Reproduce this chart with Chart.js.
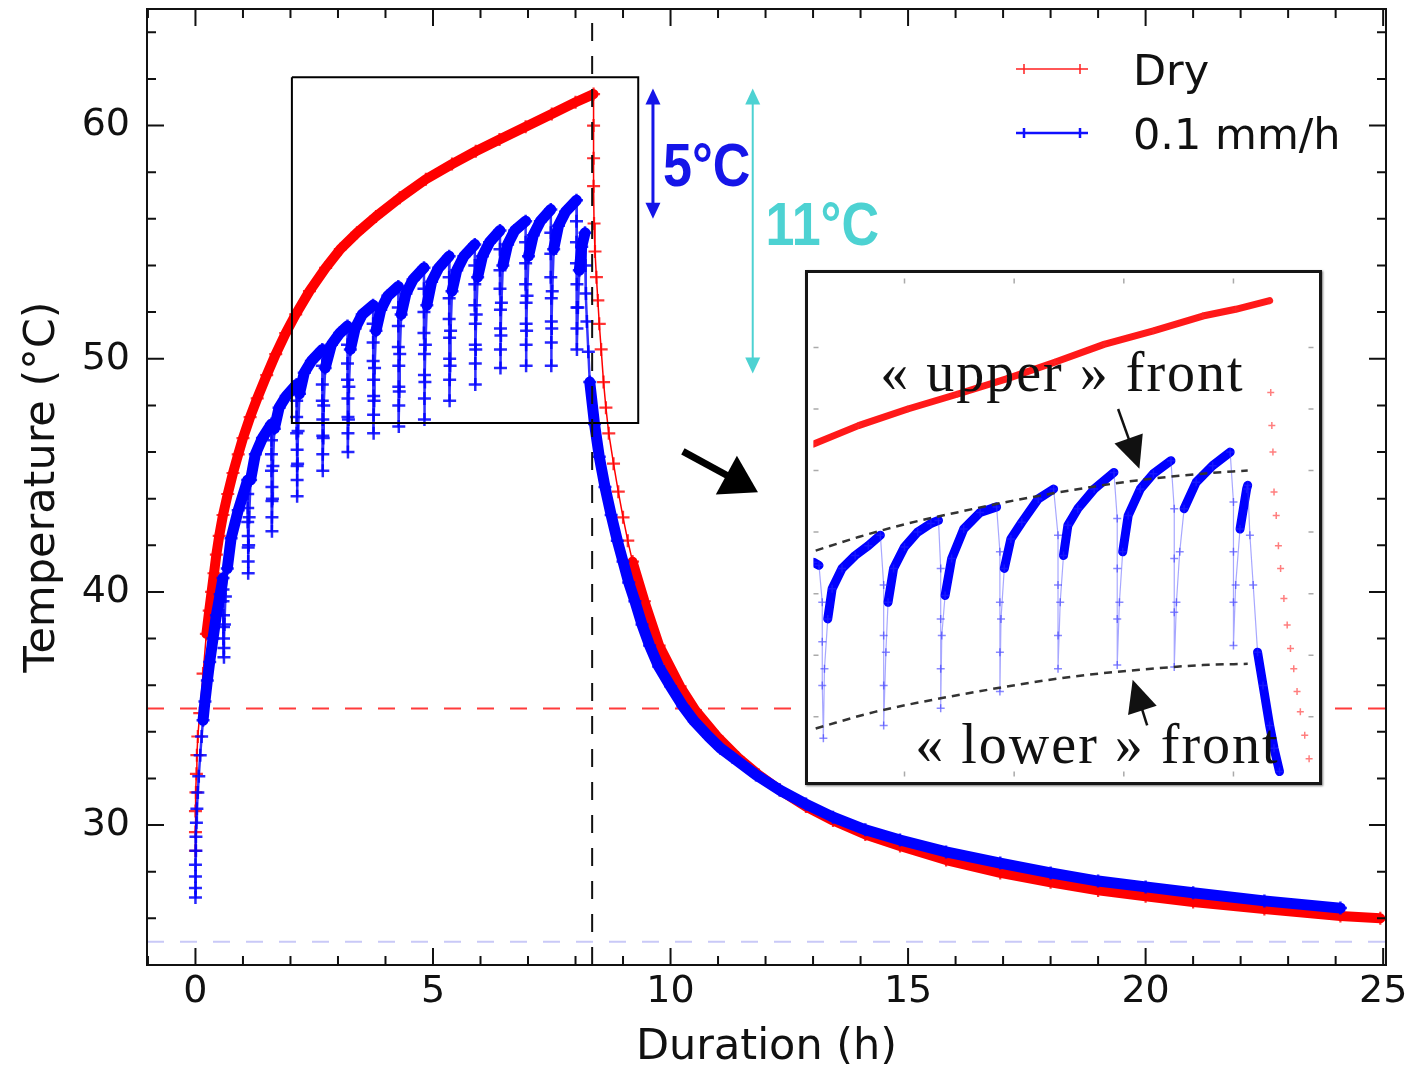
<!DOCTYPE html>
<html>
<head>
<meta charset="utf-8">
<script src="https://cdn.jsdelivr.net/npm/chart.js@4.4.1/dist/chart.umd.min.js"></script>
<style>
    html, body { margin: 0; padding: 0; background: #fff; }
    #wrap { position: relative; width: 1412px; height: 1074px; }
    #inset { position: absolute; left: 805px; top: 270px; width: 511px; height: 509px;
             border: 3px solid #161616; background: #fff; box-shadow: 1px 1px 2px #777; }
    canvas { display: block; }
</style>
</head>
<body>
<div id="wrap">
    <canvas id="chart" width="1412" height="1074"></canvas>
    <div id="inset"><canvas id="zoom" width="511" height="509"></canvas></div>
</div>
<script>
// axes
var xMin = -1.02, xMax = 25.06;
var yMin = 24, yMax = 65;
var xTickLabels = [0, 5, 10, 15, 20, 25];
var yTickLabels = [30, 40, 50, 60];
var seriesNames = ['Dry', '0.1 mm/h'];

// Dry run (red)
var dryTime = [0.00, 0.00, 0.00, 0.01, 0.02, 0.03, 0.05, 0.09, 0.16, 0.23, 0.29, 0.34, 0.39, 0.44, 0.50,
    0.58, 0.68, 0.79, 0.90, 1.00, 1.15, 1.30, 1.50, 1.69, 1.90, 2.11, 2.40, 2.74, 3.05, 3.40, 3.80,
    4.30, 4.85, 5.40, 5.90, 6.40, 6.95, 7.50, 8.00, 8.38,
    8.38, 8.38, 8.38, 8.39, 8.41, 8.44, 8.47, 8.50, 8.54, 8.59, 8.64, 8.70, 8.80, 8.90, 9.00, 9.10,
    9.20, 9.45, 9.76, 10.20, 10.52, 10.98, 11.42, 11.86, 12.30, 12.85, 13.42, 14.10, 14.83, 15.80,
    16.94, 18.00, 19.00, 20.00, 21.00, 22.50, 24.10, 24.94];
var dryTemp = [28.9, 29.7, 30.6, 31.4, 32.2, 33.0, 33.8, 34.8, 36.5, 38.2, 39.2, 40.0, 40.8, 41.6, 42.4,
    43.3, 44.2, 45.1, 45.9, 46.6, 47.5, 48.3, 49.3, 50.2, 51.1, 51.9, 52.9, 53.9, 54.7, 55.4, 56.1,
    56.9, 57.7, 58.35, 58.9, 59.4, 59.95, 60.5, 61.0, 61.35,
    60.0, 58.6, 57.4, 55.8, 54.6, 53.5, 52.5, 51.5, 50.4, 49.0, 47.9, 46.8, 45.5, 44.3, 43.2, 42.2,
    41.3, 39.6, 37.7, 35.95, 34.93, 33.8, 32.9, 32.15, 31.5, 30.8, 30.2, 29.6, 29.1, 28.5,
    27.95, 27.55, 27.2, 26.95, 26.7, 26.4, 26.1, 26.0];

// 0.1 mm/h run (blue): first rise, 15 teeth (drop column + recovery), then cooling
var wetTime = [0.00, 0.00, 0.00, 0.00, 0.01, 0.01, 0.02, 0.03, 0.05, 0.07, 0.10, 0.13, 0.16, 0.20, 0.25,
    0.30, 0.37, 0.44, 0.52, 0.58,
    0.58, 0.58, 0.59, 0.59, 0.59, 0.60, 0.60, 0.61, 0.63, 0.67, 0.75, 0.90, 1.10,
    1.10, 1.10, 1.10, 1.11, 1.11, 1.11, 1.11, 1.12, 1.13, 1.16, 1.26, 1.41, 1.60,
    1.60, 1.60, 1.60, 1.61, 1.61, 1.61, 1.61, 1.62, 1.63, 1.66, 1.76, 1.91, 2.13,
    2.13, 2.13, 2.13, 2.14, 2.14, 2.14, 2.14, 2.15, 2.16, 2.19, 2.29, 2.44, 2.67,
    2.67, 2.67, 2.67, 2.68, 2.68, 2.68, 2.68, 2.69, 2.70, 2.73, 2.86, 3.04, 3.20,
    3.20, 3.20, 3.20, 3.21, 3.21, 3.21, 3.21, 3.22, 3.23, 3.26, 3.36, 3.51, 3.74,
    3.74, 3.74, 3.74, 3.75, 3.75, 3.75, 3.75, 3.76, 3.77, 3.80, 3.90, 4.05, 4.27,
    4.27, 4.27, 4.27, 4.28, 4.28, 4.28, 4.28, 4.29, 4.30, 4.33, 4.43, 4.58, 4.81,
    4.81, 4.81, 4.81, 4.82, 4.82, 4.82, 4.82, 4.83, 4.84, 4.87, 4.97, 5.12, 5.34,
    5.34, 5.34, 5.34, 5.35, 5.35, 5.35, 5.35, 5.36, 5.37, 5.40, 5.50, 5.65, 5.88,
    5.88, 5.88, 5.88, 5.89, 5.89, 5.89, 5.89, 5.90, 5.91, 5.94, 6.04, 6.19, 6.41,
    6.41, 6.41, 6.41, 6.42, 6.42, 6.42, 6.42, 6.43, 6.44, 6.47, 6.57, 6.72, 6.95,
    6.95, 6.95, 6.95, 6.96, 6.96, 6.96, 6.96, 6.97, 6.98, 7.01, 7.11, 7.26, 7.48,
    7.48, 7.48, 7.48, 7.49, 7.49, 7.49, 7.49, 7.50, 7.51, 7.54, 7.64, 7.79, 8.02,
    8.02, 8.02, 8.02, 8.03, 8.03, 8.03, 8.03,
    8.05, 8.08, 8.13, 8.20, 8.21, 8.22, 8.24, 8.27, 8.30,
    8.40, 8.50, 8.62, 8.75, 8.88, 9.00, 9.12, 9.25, 9.40, 9.56, 9.75, 10.00, 10.26, 10.50, 10.80,
    11.05, 11.31, 11.80, 12.30, 12.85, 13.42, 14.10, 14.83, 15.80, 16.94, 18.00, 19.00, 20.00,
    21.00, 22.50, 24.10];
var wetTemp = [26.9, 27.3, 27.8, 28.3, 28.9, 29.5, 30.1, 30.7, 31.4, 32.1, 33.0, 33.8, 34.5, 35.3, 36.2,
    37.0, 38.0, 39.0, 39.9, 40.6,
    40.1, 39.6, 39.0, 38.5, 38.0, 37.6, 37.2, 38.6, 39.8, 41.0, 42.3, 43.5, 44.8,
    44.2, 43.6, 43.0, 42.4, 41.9, 41.3, 40.8, 42.0, 43.2, 44.8, 45.9, 46.6, 47.2,
    46.5, 45.9, 45.2, 44.5, 43.9, 43.2, 42.6, 44.0, 45.4, 47.0, 47.9, 48.4, 48.9,
    48.2, 47.5, 46.8, 46.1, 45.4, 44.8, 44.1, 45.5, 46.9, 48.5, 49.4, 49.9, 50.4,
    49.7, 48.9, 48.2, 47.4, 46.7, 45.9, 45.2, 46.6, 48.0, 49.6, 50.6, 51.1, 51.4,
    50.6, 49.8, 49.1, 48.3, 47.5, 46.8, 46.0, 47.4, 48.8, 50.4, 51.3, 51.9, 52.3,
    51.5, 50.7, 49.9, 49.1, 48.4, 47.6, 46.8, 48.2, 49.6, 51.2, 52.1, 52.7, 53.1,
    52.2, 51.4, 50.5, 49.7, 48.8, 48.0, 47.1, 48.6, 50.2, 51.9, 52.8, 53.4, 53.9,
    53.0, 52.0, 51.1, 50.2, 49.3, 48.3, 47.4, 49.0, 50.6, 52.3, 53.3, 53.9, 54.4,
    53.5, 52.6, 51.7, 50.9, 50.0, 49.1, 48.2, 49.7, 51.2, 52.9, 53.8, 54.4, 54.9,
    54.0, 53.2, 52.3, 51.5, 50.6, 49.8, 48.9, 50.4, 51.9, 53.5, 54.4, 55.0, 55.5,
    54.7, 53.8, 53.0, 52.1, 51.3, 50.4, 49.6, 51.0, 52.4, 54.0, 54.9, 55.5, 55.9,
    55.0, 54.1, 53.2, 52.4, 51.5, 50.6, 49.7, 51.2, 52.7, 54.4, 55.3, 55.9, 56.4,
    55.4, 54.5, 53.5, 52.6, 51.6, 50.7, 49.7, 51.3, 52.9, 54.7, 55.7, 56.3, 56.8,
    55.9, 55.0, 54.1, 53.2, 52.2, 51.3, 50.4,
    52.2, 53.8, 54.8, 55.4, 54.0, 52.8, 51.6, 50.3, 49.0,
    47.2, 45.8, 44.5, 43.3, 42.2, 41.3, 40.4, 39.6, 38.6, 37.7, 36.8, 35.95, 35.1, 34.45, 33.8,
    33.3, 32.9, 32.15, 31.5, 30.9, 30.34, 29.8, 29.36, 28.85, 28.37, 27.95, 27.6, 27.35,
    27.1, 26.75, 26.44];

// reference lines and zoom frame
var tempLimit = 35;
var ambientTemp = 25;
var heaterOffTime = 8.35;
var zoomBoxTime = [2.03, 9.32];
var zoomBoxTemp = [47.24, 62.07];

// inset (zoomed view)
var insetTimeRange = [4.17, 8.73];
var insetTempRange = [49.03, 57.12];
var insetTimeTicks = [5, 6, 7, 8];
var insetTempTicks = [50, 51, 52, 53, 54, 55, 56];
var insetDryTime = [4.17, 4.58, 5.03, 5.48, 5.93, 6.37, 6.82, 7.27, 7.72, 8.02, 8.33,
    8.34, 8.35, 8.36, 8.37, 8.39, 8.41, 8.43, 8.46, 8.49, 8.52, 8.55, 8.58, 8.61, 8.65, 8.69];
var insetDryTemp = [54.43, 54.73, 55.00, 55.24, 55.49, 55.76, 56.05, 56.27, 56.51, 56.62, 56.76,
    55.27, 54.73, 54.30, 53.65, 53.27, 52.78, 52.41, 51.92, 51.49, 51.11, 50.78, 50.41, 50.08, 49.70, 49.32];
var insetWetTime = [4.17, 4.22,
    4.25, 4.25, 4.25, 4.26, 4.27, 4.30, 4.34, 4.43, 4.55, 4.67, 4.78,
    4.81, 4.81, 4.81, 4.81, 4.83, 4.85, 4.90, 5.00, 5.12, 5.24, 5.31,
    5.33, 5.33, 5.33, 5.33, 5.34, 5.37, 5.43, 5.54, 5.69, 5.84,
    5.87, 5.87, 5.87, 5.87, 5.88, 5.91, 5.97, 6.07, 6.22, 6.36,
    6.40, 6.40, 6.40, 6.40, 6.42, 6.45, 6.49, 6.58, 6.73, 6.91,
    6.94, 6.94, 6.94, 6.94, 6.96, 6.99, 7.04, 7.15, 7.27, 7.43,
    7.46, 7.46, 7.46, 7.46, 7.48, 7.51, 7.55, 7.66, 7.81, 7.97,
    8.00, 8.00, 8.00, 8.00, 8.02, 8.06, 8.12, 8.13,
    8.15, 8.18, 8.22, 8.27, 8.33, 8.37, 8.42];
var insetWetTemp = [52.51, 52.46,
    51.86, 51.22, 50.51, 49.65, 50.78, 51.59, 52.08, 52.41, 52.62, 52.78, 52.95,
    52.14, 51.32, 50.51, 49.86, 51.05, 51.86, 52.41, 52.76, 53.00, 53.14, 53.19,
    52.41, 51.59, 50.78, 50.14, 51.32, 51.97, 52.57, 53.05, 53.32, 53.41,
    52.68, 51.86, 51.05, 50.41, 51.59, 52.41, 52.89, 53.16, 53.54, 53.70,
    52.95, 52.14, 51.32, 50.78, 51.86, 52.62, 53.11, 53.38, 53.70, 53.97,
    53.22, 52.41, 51.59, 50.84, 51.86, 52.68, 53.27, 53.70, 53.95, 54.16,
    53.38, 52.57, 51.70, 50.81, 51.86, 52.68, 53.38, 53.81, 54.08, 54.30,
    53.49, 52.68, 51.86, 51.16, 52.14, 53.05, 53.70, 53.76,
    52.95, 52.14, 51.05, 50.51, 49.86, 49.49, 49.11];
var upperFrontTime = [4.19, 4.58, 5.03, 5.48, 5.93, 6.52, 7.12, 7.72, 8.13];
var upperFrontTemp = [52.70, 52.92, 53.14, 53.32, 53.49, 53.68, 53.84, 53.95, 54.00];
var lowerFrontTime = [4.19, 4.73, 5.33, 5.93, 6.52, 7.12, 7.72, 8.13];
var lowerFrontTemp = [49.81, 50.08, 50.30, 50.49, 50.65, 50.76, 50.84, 50.86];

var FONT = '"DejaVu Sans", "Liberation Sans", sans-serif';
var BOLD = '"Liberation Sans", Arial, sans-serif';
var SERIF = '"Liberation Serif", "DejaVu Serif", serif';

function points(xs, ys) {
    return xs.map(function (x, i) {
        return {x: x, y: ys[i]};
    });
}

// steep parts of a record were sampled sparsely: they show as separate crosses
function isSteep(ctx, riseSteep, fallSteep) {
    var dx = Math.abs(ctx.p1.x - ctx.p0.x);
    var dy = ctx.p1.y - ctx.p0.y;
    var limit = dy > 0 ? fallSteep : riseSteep;
    return Math.abs(dy) > limit * Math.max(dx, 0.01);
}

function bandWidth(thick, thin, riseSteep, fallSteep) {
    return function (ctx) {
        return isSteep(ctx, riseSteep, fallSteep) ? thin : thick;
    };
}

function bandColor(color, sparseColor, riseSteep, fallSteep) {
    return function (ctx) {
        return isSteep(ctx, riseSteep, fallSteep) ? sparseColor : color;
    };
}

function head(ctx, x0, y0, x1, y1, len, half) {
    var a = Math.atan2(y1 - y0, x1 - x0);
    var bx = x1 - len * Math.cos(a), by = y1 - len * Math.sin(a);
    ctx.beginPath();
    ctx.moveTo(x1, y1);
    ctx.lineTo(bx + half * Math.sin(a), by - half * Math.cos(a));
    ctx.lineTo(bx - half * Math.sin(a), by + half * Math.cos(a));
    ctx.closePath();
    ctx.fill();
}

function arrow(ctx, x0, y0, x1, y1, len, half) {
    var a = Math.atan2(y1 - y0, x1 - x0);
    ctx.beginPath();
    ctx.moveTo(x0, y0);
    ctx.lineTo(x1 - (len - 2) * Math.cos(a), y1 - (len - 2) * Math.sin(a));
    ctx.stroke();
    head(ctx, x0, y0, x1, y1, len, half);
}

var gapNotes = [
    {time: 9.63, high: 61.59, low: 56.0, color: '#1515e8', width: 3, text: '5°C', textTime: 9.84, textTemp: 57.43},
    {time: 11.73, high: 61.59, low: 49.37, color: '#4dd2d2', width: 2, text: '11°C', textTime: 12.0, textTemp: 54.86}
];
var pointer = {time0: 10.26, temp0: 46.03, time1: 11.84, temp1: 44.27};

var decorations = {
    id: 'decorations',
    afterDatasetsDraw: function (chart) {
        var ctx = chart.ctx, a = chart.chartArea;
        var xs = chart.scales.x, ys = chart.scales.y;
        ctx.save();

        // inward ticks on all four sides
        ctx.strokeStyle = '#111';
        ctx.lineWidth = 2;
        ctx.beginPath();
        xs.ticks.forEach(function (t) {
            var px = xs.getPixelForValue(t.value);
            var len = xTickLabels.indexOf(t.value) >= 0 ? 17 : 9;
            ctx.moveTo(px, a.bottom); ctx.lineTo(px, a.bottom - len);
            ctx.moveTo(px, a.top); ctx.lineTo(px, a.top + len);
        });
        ys.ticks.forEach(function (t) {
            var py = ys.getPixelForValue(t.value);
            var len = yTickLabels.indexOf(t.value) >= 0 ? 17 : 9;
            ctx.moveTo(a.left, py); ctx.lineTo(a.left + len, py);
            ctx.moveTo(a.right, py); ctx.lineTo(a.right - len, py);
        });
        ctx.stroke();
        ctx.strokeRect(a.left, a.top, a.right - a.left, a.bottom - a.top);

        // temperature gap arrows
        gapNotes.forEach(function (n) {
            var px = xs.getPixelForValue(n.time);
            var top = ys.getPixelForValue(n.high), bottom = ys.getPixelForValue(n.low);
            ctx.strokeStyle = n.color;
            ctx.fillStyle = n.color;
            ctx.lineWidth = n.width;
            ctx.beginPath();
            ctx.moveTo(px, top + 12);
            ctx.lineTo(px, bottom - 12);
            ctx.stroke();
            head(ctx, px, bottom - 20, px, bottom, 16, 7.5);
            head(ctx, px, top + 20, px, top, 16, 7.5);
            ctx.save();
            ctx.translate(xs.getPixelForValue(n.textTime), ys.getPixelForValue(n.textTemp));
            ctx.scale(0.84, 1);
            ctx.font = 'bold 62px ' + BOLD;
            ctx.textAlign = 'left';
            ctx.textBaseline = 'alphabetic';
            ctx.fillText(n.text, 0, 0);
            ctx.restore();
        });

        // pointer to the inset
        ctx.strokeStyle = '#000';
        ctx.fillStyle = '#000';
        ctx.lineWidth = 7;
        arrow(ctx, xs.getPixelForValue(pointer.time0), ys.getPixelForValue(pointer.temp0),
            xs.getPixelForValue(pointer.time1), ys.getPixelForValue(pointer.temp1), 36, 22);

        // legend
        var lx = a.right - 370, tx = a.right - 253;
        var rows = [{y: a.top + 60, color: '#ff2020', width: 1.5}, {y: a.top + 124, color: '#1010ff', width: 2.5}];
        rows.forEach(function (r, i) {
            ctx.strokeStyle = r.color;
            ctx.lineWidth = r.width;
            ctx.beginPath();
            ctx.moveTo(lx, r.y); ctx.lineTo(lx + 72, r.y);
            ctx.moveTo(lx + 8, r.y - 5); ctx.lineTo(lx + 8, r.y + 5);
            ctx.moveTo(lx + 64, r.y - 5); ctx.lineTo(lx + 64, r.y + 5);
            ctx.stroke();
            ctx.fillStyle = '#111';
            ctx.font = '43px ' + FONT;
            ctx.textAlign = 'left';
            ctx.textBaseline = 'alphabetic';
            ctx.fillText(seriesNames[i], tx, r.y + 16);
        });
        ctx.restore();
    }
};

new Chart(document.getElementById('chart'), {
    type: 'scatter',
    data: {
        datasets: [
            {
                data: [{x: heaterOffTime, y: yMin}, {x: heaterOffTime, y: yMax}],
                showLine: true, order: 0, borderColor: '#111', borderWidth: 2, borderDash: [18, 15], pointRadius: 0
            },
            {
                data: [{x: zoomBoxTime[0], y: zoomBoxTemp[1]}, {x: zoomBoxTime[1], y: zoomBoxTemp[1]},
                    {x: zoomBoxTime[1], y: zoomBoxTemp[0]}, {x: zoomBoxTime[0], y: zoomBoxTemp[0]},
                    {x: zoomBoxTime[0], y: zoomBoxTemp[1]}],
                showLine: true, order: 0, borderColor: '#000', borderWidth: 2, pointRadius: 0
            },
            {
                label: seriesNames[1],
                data: points(wetTime, wetTemp),
                showLine: true, order: 1,
                borderColor: '#0000ff', borderWidth: 11, borderJoinStyle: 'round', borderCapStyle: 'round',
                pointStyle: 'cross', pointRadius: 6.5, pointBorderWidth: 2.5, pointBorderColor: 'rgba(0,0,255,0.85)',
                segment: {
                    borderWidth: bandWidth(11, 2.5, 10, 10),
                    borderColor: bandColor('#0000ff', 'rgba(0,0,255,0.8)', 10, 10)
                }
            },
            {
                label: seriesNames[0],
                data: points(dryTime, dryTemp),
                showLine: true, order: 2,
                borderColor: '#ff0000', borderWidth: 10, borderJoinStyle: 'round', borderCapStyle: 'round',
                pointStyle: 'cross', pointRadius: 6.5, pointBorderWidth: 2.2, pointBorderColor: 'rgba(255,0,0,0.8)',
                segment: {borderWidth: bandWidth(10, 1.5, 9, 4.2)}
            },
            {
                data: [{x: xMin, y: tempLimit}, {x: xMax, y: tempLimit}],
                showLine: true, order: 3, borderColor: '#ff3b3b', borderWidth: 2, borderDash: [17, 16], pointRadius: 0
            },
            {
                data: [{x: xMin, y: ambientTemp}, {x: xMax, y: ambientTemp}],
                showLine: true, order: 3, borderColor: '#c9c9f7', borderWidth: 2, borderDash: [17, 16], pointRadius: 0
            }
        ]
    },
    options: {
        responsive: false,
        animation: false,
        devicePixelRatio: 1,
        events: [],
        layout: {padding: {top: 7, right: 26, left: 0, bottom: 0}},
        plugins: {legend: {display: false}, tooltip: {enabled: false}},
        scales: {
            x: {
                type: 'linear', position: 'bottom', min: xMin, max: xMax,
                grid: {display: false, drawTicks: false},
                border: {display: false},
                afterBuildTicks: function (scale) {
                    var ticks = [];
                    for (var v = Math.ceil(scale.min); v <= scale.max; v += 1) {
                        ticks.push({value: v});
                    }
                    scale.ticks = ticks;
                },
                afterFit: function (scale) {
                    scale.height = 109;
                    scale.paddingLeft = 0;
                    scale.paddingRight = 0;
                },
                ticks: {
                    autoSkip: false, maxRotation: 0, minRotation: 0, padding: 4, color: '#111',
                    font: {family: FONT, size: 38},
                    callback: function (value) {
                        return xTickLabels.indexOf(value) >= 0 ? String(value) : '';
                    }
                },
                title: {
                    display: true, text: 'Duration (h)', color: '#111',
                    font: {family: FONT, size: 43}, padding: {top: 0, bottom: 0}
                }
            },
            y: {
                type: 'linear', min: yMin, max: yMax,
                grid: {display: false, drawTicks: false},
                border: {display: false},
                afterBuildTicks: function (scale) {
                    var ticks = [];
                    for (var v = Math.ceil(scale.min / 2) * 2; v <= scale.max; v += 2) {
                        ticks.push({value: v});
                    }
                    scale.ticks = ticks;
                },
                afterFit: function (scale) {
                    scale.width = 147;
                    scale.paddingTop = 0;
                    scale.paddingBottom = 0;
                },
                ticks: {
                    autoSkip: false, padding: 17, color: '#111',
                    font: {family: FONT, size: 38},
                    callback: function (value) {
                        return yTickLabels.indexOf(value) >= 0 ? String(value) : '';
                    }
                },
                title: {
                    display: true, text: 'Temperature (°C)', color: '#111',
                    font: {family: FONT, size: 43}, padding: {top: 17, bottom: 0}
                }
            }
        }
    },
    plugins: [decorations]
});

// inset
var insetNotes = [
    {text: '« upper » front', time: 6.44, temp: 55.30, tail: [6.948, 55.00], tip: [7.142, 54.03]},
    {text: '« lower » front', time: 6.76, temp: 49.25, tail: [7.213, 49.86], tip: [7.081, 50.60]}
];

var insetDecor = {
    id: 'insetDecor',
    afterDatasetsDraw: function (chart) {
        var ctx = chart.ctx, a = chart.chartArea;
        var xs = chart.scales.x, ys = chart.scales.y;
        ctx.save();
        ctx.strokeStyle = '#aaa';
        ctx.lineWidth = 1.5;
        ctx.beginPath();
        insetTimeTicks.forEach(function (v) {
            var px = xs.getPixelForValue(v);
            ctx.moveTo(px, a.top); ctx.lineTo(px, a.top + 5);
            ctx.moveTo(px, a.bottom); ctx.lineTo(px, a.bottom - 5);
        });
        insetTempTicks.forEach(function (v) {
            var py = ys.getPixelForValue(v);
            ctx.moveTo(a.left, py); ctx.lineTo(a.left + 5, py);
            ctx.moveTo(a.right, py); ctx.lineTo(a.right - 5, py);
        });
        ctx.stroke();

        insetNotes.forEach(function (n) {
            ctx.fillStyle = '#111';
            ctx.font = '56px ' + SERIF;
            ctx.letterSpacing = '2px';
            ctx.textAlign = 'center';
            ctx.textBaseline = 'alphabetic';
            ctx.fillText(n.text, xs.getPixelForValue(n.time), ys.getPixelForValue(n.temp));
            ctx.strokeStyle = '#111';
            ctx.lineWidth = 2.5;
            arrow(ctx, xs.getPixelForValue(n.tail[0]), ys.getPixelForValue(n.tail[1]),
                xs.getPixelForValue(n.tip[0]), ys.getPixelForValue(n.tip[1]), 32, 15);
        });
        ctx.restore();
    }
};

new Chart(document.getElementById('zoom'), {
    type: 'scatter',
    data: {
        datasets: [
            {
                data: points(upperFrontTime, upperFrontTemp),
                showLine: true, order: 0, borderColor: '#333', borderWidth: 2.5, borderDash: [8, 6],
                pointRadius: 0, cubicInterpolationMode: 'monotone'
            },
            {
                data: points(lowerFrontTime, lowerFrontTemp),
                showLine: true, order: 0, borderColor: '#333', borderWidth: 2.5, borderDash: [8, 6],
                pointRadius: 0, cubicInterpolationMode: 'monotone'
            },
            {
                data: points(insetWetTime, insetWetTemp),
                showLine: true, order: 1,
                borderColor: '#0000ff', borderWidth: 9, borderJoinStyle: 'round', borderCapStyle: 'round',
                pointStyle: 'cross', pointRadius: 4, pointBorderWidth: 1.5, pointBorderColor: 'rgba(40,40,255,0.55)',
                segment: {
                    borderWidth: bandWidth(9, 1.2, 7.5, 7.5),
                    borderColor: bandColor('#0000ff', 'rgba(60,60,255,0.45)', 7.5, 7.5)
                }
            },
            {
                data: points(insetDryTime, insetDryTemp),
                showLine: true, order: 2,
                borderColor: 'rgba(255,0,0,0.9)', borderWidth: 7, borderJoinStyle: 'round', borderCapStyle: 'round',
                pointStyle: 'cross', pointRadius: 3.5, pointBorderWidth: 1.5, pointBorderColor: 'rgba(255,40,40,0.6)',
                segment: {borderColor: bandColor('rgba(255,0,0,0.9)', 'rgba(0,0,0,0)', 6, 1)}
            }
        ]
    },
    options: {
        responsive: false,
        animation: false,
        devicePixelRatio: 1,
        events: [],
        layout: {padding: 0},
        plugins: {legend: {display: false}, tooltip: {enabled: false}},
        scales: {
            x: {type: 'linear', display: false, min: insetTimeRange[0], max: insetTimeRange[1]},
            y: {type: 'linear', display: false, min: insetTempRange[0], max: insetTempRange[1]}
        }
    },
    plugins: [insetDecor]
});
</script>
</body>
</html>
